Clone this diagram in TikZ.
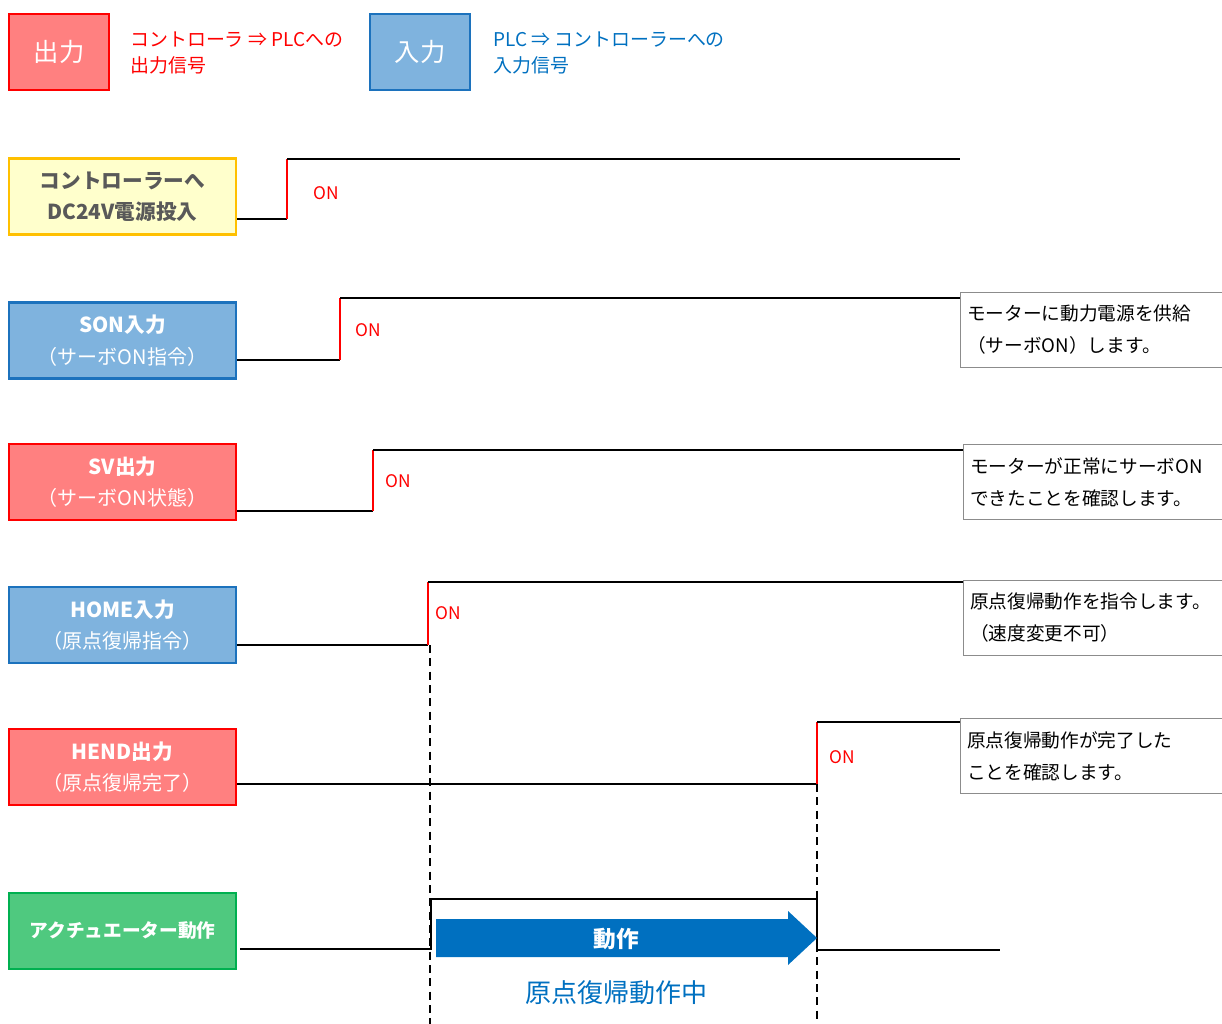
\documentclass[tikz,border=0pt]{standalone}
\usepackage{fontspec}
\setmainfont{Noto Sans CJK JP}
\definecolor{outfill}{HTML}{FF8080}
\definecolor{outline}{HTML}{FF0000}
\definecolor{infill}{HTML}{7FB3DE}
\definecolor{inline}{HTML}{1C72BD}
\definecolor{pwfill}{HTML}{FFFFCC}
\definecolor{pwline}{HTML}{FFC000}
\definecolor{actfill}{HTML}{4FC97F}
\definecolor{actline}{HTML}{00B050}
\definecolor{darktext}{HTML}{595959}
\definecolor{movblue}{HTML}{0070C0}
\definecolor{notegray}{HTML}{8C8C8C}
\begin{document}
\begin{tikzpicture}[x=0.75pt,y=-0.75pt,
    box/.style={rectangle,draw,line width=1.6pt,minimum width=170pt,minimum height=57pt,
      align=center,font=\fontsize{15.5}{23.5}\selectfont\bfseries},
    outbox/.style={box,fill=outfill,draw=outline,text=white},
    inbox/.style={box,fill=infill,draw=inline,text=white},
    legbox/.style={rectangle,draw,line width=1.6pt,minimum width=75pt,minimum height=57pt,
      text=white,font=\fontsize{19}{22}\selectfont},
    legtext/.style={anchor=west,align=left,inner sep=0pt,font=\fontsize{14.2}{19}\selectfont},
    note/.style={rectangle,draw=notegray,line width=0.8pt,anchor=north west,align=left,
      text width=210pt,minimum height=56pt,inner xsep=5pt,font=\fontsize{14}{24}\selectfont},
    sig/.style={line width=1.3pt,black},
    rise/.style={line width=1.3pt,red},
    on/.style={anchor=west,inner sep=0pt,text=red,font=\fontsize{13}{15}\selectfont},
    guide/.style={line width=1.2pt,dash pattern=on 6pt off 4pt}]
  \clip (0,0) rectangle (1222,1024);
  % Legend
  \node[legbox,fill=outfill,draw=outline] (legout) at (59,52) {出力};
  \node[legtext,text=red] (legouttxt) at (130,53) {コントローラ ⇒ PLCへの\\出力信号};
  \node[legbox,fill=infill,draw=inline] (legin) at (420,52) {入力};
  \node[legtext,text=movblue] (legintxt) at (493,53) {PLC ⇒ コントローラーへの\\入力信号};
  % Signal boxes
  \node[box,fill=pwfill,draw=pwline,text=darktext] (pw) at (122.5,196.5) {コントローラーへ\\DC24V電源投入};
  \node[inbox] (son) at (122.5,340.5) {SON入力\\{\mdseries\fontsize{15}{23.5}\selectfont （サーボON指令）}};
  \node[outbox] (sv) at (122.5,482) {SV出力\\{\mdseries\fontsize{15}{23.5}\selectfont （サーボON状態）}};
  \node[inbox] (home) at (122.5,625) {HOME入力\\{\mdseries\fontsize{15}{23.5}\selectfont （原点復帰指令）}};
  \node[outbox] (hend) at (122.5,767) {HEND出力\\{\mdseries\fontsize{15}{23.5}\selectfont （原点復帰完了）}};
  \node[box,fill=actfill,draw=actline,text=white,font=\fontsize{14}{20}\selectfont\bfseries] (act) at (122.5,931) {アクチュエーター動作};
  % Waveforms
  \draw[sig] (pw.east |- 0,219) -- (287,219);
  \draw[rise] (287,219) -- (287,159);
  \draw[sig] (287,159) -- (960,159);
  \node[on] (on1) at (313,193) {ON};
  \draw[sig] (son.east |- 0,360) -- (340,360);
  \draw[rise] (340,360) -- (340,298);
  \draw[sig] (340,298) -- (960,298);
  \node[on] (on2) at (355,330) {ON};
  \draw[sig] (sv.east |- 0,511) -- (373,511);
  \draw[rise] (373,511) -- (373,450);
  \draw[sig] (373,450) -- (963,450);
  \node[on] (on3) at (385,481) {ON};
  \draw[sig] (home.east |- 0,645) -- (428,645);
  \draw[rise] (428,645) -- (428,582);
  \draw[sig] (428,582) -- (963,582);
  \node[on] (on4) at (435,613) {ON};
  \draw[sig] (hend.east |- 0,784) -- (817,784);
  \draw[rise] (817,784) -- (817,722);
  \draw[sig] (817,722) -- (960,722);
  \node[on] (on5) at (829,757) {ON};
  \draw[sig] (240,949) -- (431,949) -- (431,899) -- (817,899) -- (817,950) -- (1000,950);
  % Guides
  \draw[guide] (430,645) -- (430,1024);
  \draw[guide] (817,784) -- (817,1024);
  % Motion arrow
  \fill[movblue] (436,919) -- (788,919) -- (788,911) -- (817,938) -- (788,965) -- (788,957) -- (436,957) -- cycle;
  \node[text=white,font=\fontsize{17}{20}\selectfont\bfseries] (mov) at (616,939) {動作};
  \node[text=movblue,font=\fontsize{19.5}{22}\selectfont] (movtxt) at (616,993) {原点復帰動作中};
  % Notes
  \node[note] (n1) at (960,292) {モーターに動力電源を供給\\（サーボON）します。};
  \node[note] (n2) at (963,444) {モーターが正常にサーボON\\できたことを確認します。};
  \node[note] (n3) at (963,580) {原点復帰動作を指令します。\\（速度変更不可）};
  \node[note] (n4) at (960,718) {原点復帰動作が完了した\\ことを確認します。};
\end{tikzpicture}
\end{document}
